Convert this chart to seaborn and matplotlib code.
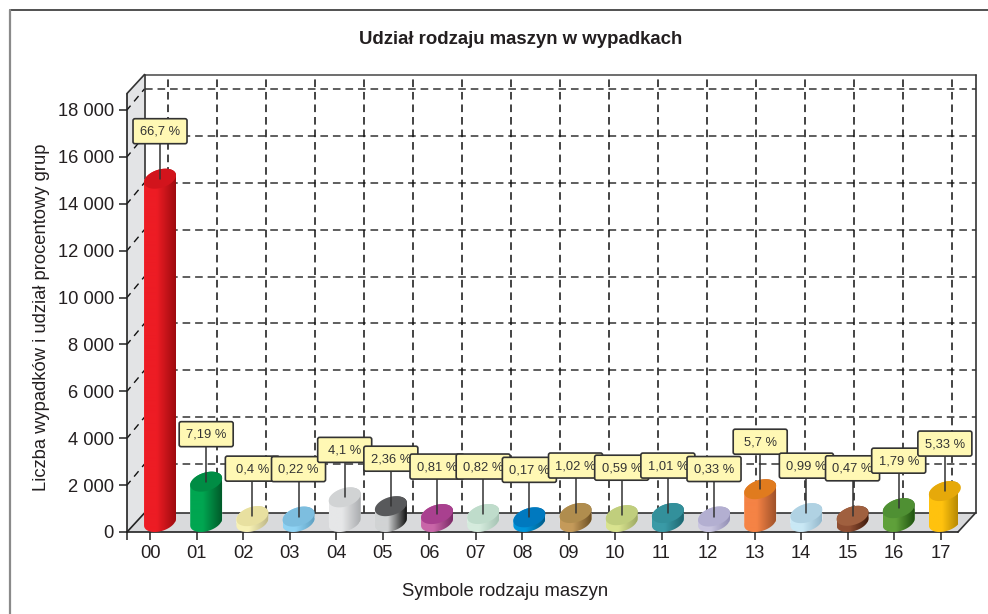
import numpy as np
import matplotlib
matplotlib.use("Agg")
import matplotlib.pyplot as plt
import seaborn as sns
from matplotlib.colors import to_rgb
from matplotlib.patches import FancyBboxPatch, Polygon
from matplotlib.path import Path
from matplotlib.transforms import Affine2D, IdentityTransform

symbols = ["00", "01", "02", "03", "04", "05", "06", "07", "08",
           "09", "10", "11", "12", "13", "14", "15", "16", "17"]
counts = [14640, 1720, 250, 230, 1050, 674, 338, 340, 199,
          383, 290, 381, 234, 1399, 377, 264, 590, 1319]
shares = ["66,7 %", "7,19 %", "0,4 %", "0,22 %", "4,1 %", "2,36 %", "0,81 %", "0,82 %", "0,17 %",
          "1,02 %", "0,59 %", "1,01 %", "0,33 %", "5,7 %", "0,99 %", "0,47 %", "1,79 %", "5,33 %"]
y_ticks = [0, 2000, 4000, 6000, 8000, 10000, 12000, 14000, 16000, 18000]
y_labels = ["0", "2 000", "4 000", "6 000", "8 000", "10 000", "12 000", "14 000", "16 000", "18 000"]

side_light = ["#ED1C24", "#00A651", "#F7F1B5", "#8FD3F4", "#E6E7E8", "#D1D3D4", "#C966A8", "#D5EBDD", "#0095DA",
              "#C49A5A", "#D9E38F", "#3A9AA6", "#C9C5E0", "#F58345", "#C9E8F5", "#8F4E32", "#5FA03A", "#FFC20E"]
side_dark = ["#9E0B0F", "#005B2A", "#BDB686", "#5F9FC0", "#A7A9AC", "#111111", "#7A2A66", "#A6C4B4", "#005C8A",
             "#6B4E23", "#9CA863", "#1D6670", "#938FB5", "#A0522A", "#94B8CC", "#3F1A0B", "#1F5210", "#A67C00"]
top_col = ["#D2141C", "#008C44", "#E8E0A0", "#7DBEDF", "#D1D3D4", "#58595B", "#A9408F", "#BFDCCB", "#0079BF",
           "#B08D4E", "#C0CE7D", "#33909B", "#B3AFD1", "#E07B1E", "#B0D2E3", "#A0603F", "#4F9033", "#E6A90A"]

TEXT = "#231F20"
LINE = "#333333"
W, H = 988, 614

sns.set_style("white")
plt.rcParams["font.family"] = ["Liberation Sans", "DejaVu Sans"]

fig = plt.figure(figsize=(W / 100, H / 100), dpi=100)
ax = fig.add_axes([127 / W, (H - 532) / H, 831 / W, 438.5 / H])

sns.barplot(x=symbols, y=counts, hue=symbols, palette=top_col, legend=False,
            width=32 / 46.5, saturation=1, ax=ax)
bars = list(ax.patches)

x_lim = (-0.495, 17.375)
y_lim = (0, 18700)
ax.set_xlim(x_lim)
ax.set_ylim(y_lim)
for s in ax.spines.values():
    s.set_visible(False)
ax.set_xlabel("")
ax.set_ylabel("")
ax.set_facecolor("none")

# pixels to data units
sx = (x_lim[1] - x_lim[0]) / 831
sy = y_lim[1] / 438.5
ident = IdentityTransform()


def disp(x, y):
    return ax.transData.transform((x, y))


# 3D box: walls and floor behind the front plane
p0, p1 = disp(x_lim[0], 0), disp(x_lim[1], 0)
p2 = disp(x_lim[0], y_lim[1])
ax.add_patch(Polygon([p0, p1, p1 + (17.5, 19), p0 + (17.5, 19)], transform=ident,
                     fc="#D9DADC", ec="none", zorder=0.1, clip_on=False))
ax.add_patch(Polygon([p0, p0 + (17.5, 19), p2 + (17.5, 19), p2], transform=ident,
                     fc="#E3E4E6", ec="none", zorder=0.1, clip_on=False))

dash = (0, (5, 3.2))
for t in y_ticks[1:]:
    a = disp(x_lim[0], t)
    ax.plot([a[0] + 17.5, p1[0] + 17.5], [a[1] + 21, a[1] + 21], transform=ident,
            color=LINE, lw=1.1, ls=dash, zorder=0.3, clip_on=False)
    ax.plot([a[0], a[0] + 17.5], [a[1], a[1] + 21], transform=ident,
            color="#111111", lw=1.0, ls=(1, (5, 4)), zorder=0.3, clip_on=False)
for k in range(17):
    a = disp(k * 1.0545, 0)
    ax.plot([a[0] + 17.5, a[0] + 17.5], [a[1] + 19, p2[1] + 19], transform=ident,
            color="#111111", lw=1.1, ls=dash, zorder=0.3, clip_on=False)

# box edges
edges = [
    ([p2[0] + 17.5, p1[0] + 17.5], [p2[1] + 19, p2[1] + 19], "#555555"),
    ([p1[0] + 17.5, p1[0] + 17.5], [p2[1] + 19, p1[1] + 19], "#333333"),
    ([p0[0] + 17.5, p1[0] + 17.5], [p0[1] + 19, p1[1] + 19], "#333333"),
    ([p0[0], p0[0] + 17.5], [p0[1], p0[1] + 19], "#222222"),
    ([p2[0], p2[0] + 17.5], [p2[1], p2[1] + 19], "#333333"),
    ([p0[0] + 17.5, p0[0] + 17.5], [p0[1] + 19, p2[1] + 19], "#333333"),
    ([p1[0], p1[0] + 17.5], [p1[1], p1[1] + 19], "#333333"),
    ([p0[0], p1[0]], [p0[1], p0[1]], "#222222"),
    ([p0[0], p0[0]], [p0[1], p2[1]], "#222222"),
]
for xs, ys, c in edges:
    ax.plot(xs, ys, transform=ident, color=c, lw=1.2, zorder=0.5, clip_on=False)

# cylinder cross section, in pixels
a_px, b_px, h_px = 15.0, 5.5, 10.0
t_r = np.arctan2(b_px, a_px)


def ring(t):
    return a_px * np.cos(t) + b_px * np.sin(t), h_px * np.sin(t)


for i, bar in enumerate(bars):
    cx = bar.get_x() + bar.get_width() / 2
    v = bar.get_height()
    tr = ax.transData + Affine2D().translate(10 - 0.335 * i, 10)

    bx, by = ring(np.linspace(np.pi + t_r, 2 * np.pi + t_r, 40))
    ux, uy = ring(np.linspace(t_r, np.pi + t_r, 40))
    verts = np.vstack([
        np.column_stack([cx + bx * sx, by * sy]),
        np.column_stack([cx + ux * sx, v + uy * sy]),
    ])
    body = Path(np.vstack([verts, verts[0]]), closed=True)

    bar.set_transform(tr)
    bar.set_clip_path(body, tr)
    bar.set_zorder(2)

    # side shading, light on the left and dark on the right
    c1 = np.array(to_rgb(side_light[i]))
    c2 = np.array(to_rgb(side_dark[i]))
    f = np.clip((np.linspace(0, 1, 64) - 0.4) / 0.6, 0, 1)[None, :, None]
    grad = c1[None, None, :] * (1 - f) + c2[None, None, :] * f
    im = ax.imshow(grad, extent=(cx - 16 * sx, cx + 16 * sx, -12 * sy, v + 12 * sy),
                   aspect="auto", origin="lower", zorder=3, interpolation="bilinear")
    im.set_transform(tr)
    im.set_clip_path(body, tr)

    ex, ey = ring(np.linspace(0, 2 * np.pi, 80))
    ax.add_patch(Polygon(np.column_stack([cx + ex * sx, v + ey * sy]), transform=tr,
                         fc=top_col[i], ec="none", zorder=4, clip_on=False))

    # label box above the bar
    pc = tr.transform((cx, v))
    by0 = pc[1] + 47.5
    z = 10 + i
    ax.plot([pc[0], pc[0]], [pc[1], by0], transform=ident, color="#333333", lw=1.1,
            zorder=z, clip_on=False)
    ax.add_patch(FancyBboxPatch((pc[0] - 26, by0 - 11.5), 52, 23, transform=ident,
                                boxstyle="round,pad=1,rounding_size=2",
                                fc="#FFF8B4", ec="#333333", lw=1.2, zorder=z, clip_on=False))
    ax.text(pc[0], by0 - 0.5, shares[i], transform=ident, ha="center", va="center",
            fontsize=9.3, color="#333333", zorder=z, clip_on=False)

ax.set_xlim(x_lim)
ax.set_ylim(y_lim)
ax.set_yticks(y_ticks, y_labels)
ax.set_xticks(range(len(symbols)), symbols)
ax.set_xticks([x_lim[0]], minor=True)
ax.tick_params(axis="both", which="both", length=6, width=1.1, color="#222222", labelsize=13.2,
               labelcolor=TEXT, pad=3.5, left=True, bottom=True)

fig.text(521 / W, 1 - 39 / H, "Udział rodzaju maszyn w wypadkach", ha="center", va="center",
         fontsize=13.4, fontweight="bold", color=TEXT)
fig.text(42 / W, 1 - 317 / H, "Liczba wypadków i udział procentowy grup", ha="center", va="center",
         rotation=90, fontsize=13.2, color=TEXT)
fig.text(505 / W, 1 - 592 / H, "Symbole rodzaju maszyn", ha="center", va="center",
         fontsize=13.3, color=TEXT)

# page frame, open at the right and bottom
fig.add_artist(plt.Line2D([10 / W, 1], [1 - 10 / H, 1 - 10 / H], color="#222222", lw=1.1))
fig.add_artist(plt.Line2D([10 / W, 10 / W], [0, 1 - 10 / H], color="#8A8A8A", lw=1.6))

fig.savefig("out.png", dpi=100)
